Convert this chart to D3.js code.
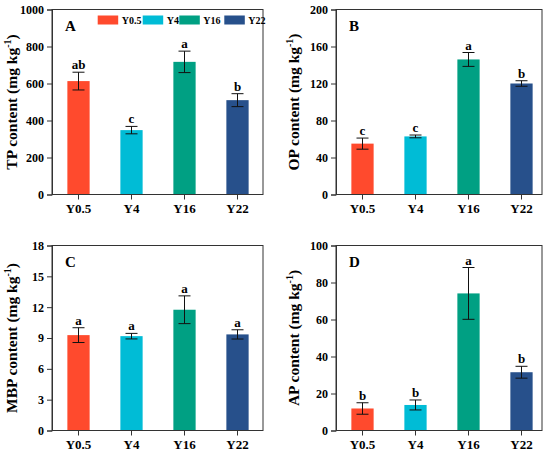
<!DOCTYPE html>
<html><head><meta charset="utf-8">
<script src="https://cdn.jsdelivr.net/npm/d3@7"></script>
<style>body{margin:0;background:#fff}svg{display:block}text{font-family:"Liberation Serif","Times New Roman",serif;font-weight:bold;fill:#000}</style>
</head><body><svg id="c" width="550" height="455"></svg>
<script>
const categories = ["Y0.5","Y4","Y16","Y22"];
const colors = ["#FF4A2D","#00BCD6","#00A083","#27508B"];
// panel A: TP
const tpMean = [613,348,717,510];
const tpErr  = [48,20,58,35];
const tpSig  = ["ab","c","a","b"];
const tpTicks = [0,200,400,600,800,1000];
// panel B: OP
const opMean = [55,62.8,146,120];
const opErr  = [6,1.5,7.5,3];
const opSig  = ["c","c","a","b"];
const opTicks = [0,40,80,120,160,200];
// panel C: MBP
const mbpMean = [9.28,9.18,11.75,9.35];
const mbpErr  = [0.72,0.27,1.35,0.45];
const mbpSig  = ["a","a","a","a"];
const mbpTicks = [0,3,6,9,12,15,18];
// panel D: AP
const apMean = [11.9,13.8,74.1,31.5];
const apErr  = [3.1,2.7,14,3.2];
const apSig  = ["b","b","a","b"];
const apTicks = [0,20,40,60,80,100];

const panels = [
  {letter:"A", name:"TP", mean:tpMean, err:tpErr, sig:tpSig, ticks:tpTicks, x0:52, y0:9.5, w:211, h:185, tx:12, legend:true},
  {letter:"B", name:"OP", mean:opMean, err:opErr, sig:opSig, ticks:opTicks, x0:336, y0:9.5, w:206, h:185, tx:294},
  {letter:"C", name:"MBP", mean:mbpMean, err:mbpErr, sig:mbpSig, ticks:mbpTicks, x0:52, y0:245.5, w:211, h:185, tx:12},
  {letter:"D", name:"AP", mean:apMean, err:apErr, sig:apSig, ticks:apTicks, x0:336, y0:245.5, w:206, h:185, tx:294}
];

const svg = d3.select("#c");
const axisColor = "#333";

panels.forEach(p => {
  const g = svg.append("g").attr("transform", `translate(${p.x0},${p.y0})`);
  const x = d3.scaleBand().domain(categories).range([0,212]).paddingInner(0.58).paddingOuter(0.29);
  const y = d3.scaleLinear().domain([p.ticks[0], p.ticks[p.ticks.length-1]]).range([p.h,0]);

  // bars
  g.selectAll("rect.bar").data(categories).join("rect").attr("class","bar")
    .attr("x", d => x(d)).attr("width", x.bandwidth())
    .attr("y", (d,i) => y(p.mean[i])).attr("height", (d,i) => p.h - y(p.mean[i]))
    .attr("fill", (d,i) => colors[i]);

  // error bars
  const cap = 6;
  const eb = g.selectAll("g.err").data(categories).join("g").attr("class","err");
  eb.append("line").attr("x1", d => x(d)+x.bandwidth()/2).attr("x2", d => x(d)+x.bandwidth()/2)
    .attr("y1", (d,i) => y(p.mean[i]+p.err[i])).attr("y2", (d,i) => y(p.mean[i]-p.err[i]))
    .attr("stroke","#111").attr("stroke-width",1);
  [1,-1].forEach(s => {
    eb.append("line").attr("x1", d => x(d)+x.bandwidth()/2-cap).attr("x2", d => x(d)+x.bandwidth()/2+cap)
      .attr("y1", (d,i) => y(p.mean[i]+s*p.err[i])).attr("y2", (d,i) => y(p.mean[i]+s*p.err[i]))
      .attr("stroke","#111").attr("stroke-width",1);
  });
  // significance letters
  g.selectAll("text.sig").data(categories).join("text").attr("class","sig")
    .attr("x", d => x(d)+x.bandwidth()/2).attr("y", (d,i) => y(p.mean[i]+p.err[i]) - 3)
    .attr("text-anchor","middle").attr("font-size",13).text((d,i) => p.sig[i]);

  // frame
  g.append("rect").attr("x",0).attr("y",0).attr("width",p.w).attr("height",p.h)
    .attr("fill","none").attr("stroke",axisColor).attr("stroke-width",1);

  // y axis
  const ya = g.append("g").call(d3.axisLeft(y).tickValues(p.ticks).tickSize(5).tickPadding(3).tickFormat(d3.format("d")));
  ya.select(".domain").attr("stroke",axisColor);
  ya.selectAll(".tick line").attr("stroke",axisColor);
  ya.selectAll("text").attr("font-size",12).attr("font-family","Liberation Serif").attr("font-weight","bold").attr("fill","#000");

  // x axis
  const xa = g.append("g").attr("transform",`translate(0,${p.h})`)
    .call(d3.axisBottom(x).tickSize(5).tickPadding(4));
  xa.select(".domain").remove();
  xa.selectAll(".tick line").attr("stroke",axisColor);
  xa.selectAll("text").attr("font-size",13).attr("font-family","Liberation Serif").attr("font-weight","bold").attr("fill","#000");

  // panel letter
  g.append("text").attr("x",13).attr("y",21).attr("font-size",15).text(p.letter);

  // y title
  const t = svg.append("text").attr("transform",`translate(${p.tx + 5},${p.y0 + p.h/2}) rotate(-90)`)
    .attr("text-anchor","middle").attr("font-size",15.5);
  t.append("tspan").text(p.name + " content (mg kg");
  t.append("tspan").attr("dy",-6).attr("font-size",10).text("-1");
  t.append("tspan").attr("dy",6).text(")");

  if (p.legend) {
    const lx = [45.7, 90.7, 127.3, 172.3];
    const lg = g.selectAll("g.leg").data(categories).join("g").attr("class","leg")
      .attr("transform",(d,i)=>`translate(${lx[i]},6)`);
    lg.append("rect").attr("width",20.5).attr("height",9).attr("fill",(d,i)=>colors[i]);
    lg.append("text").attr("x",24).attr("y",8.5).attr("font-size",10).text(d=>d);
  }
});
</script></body></html>
